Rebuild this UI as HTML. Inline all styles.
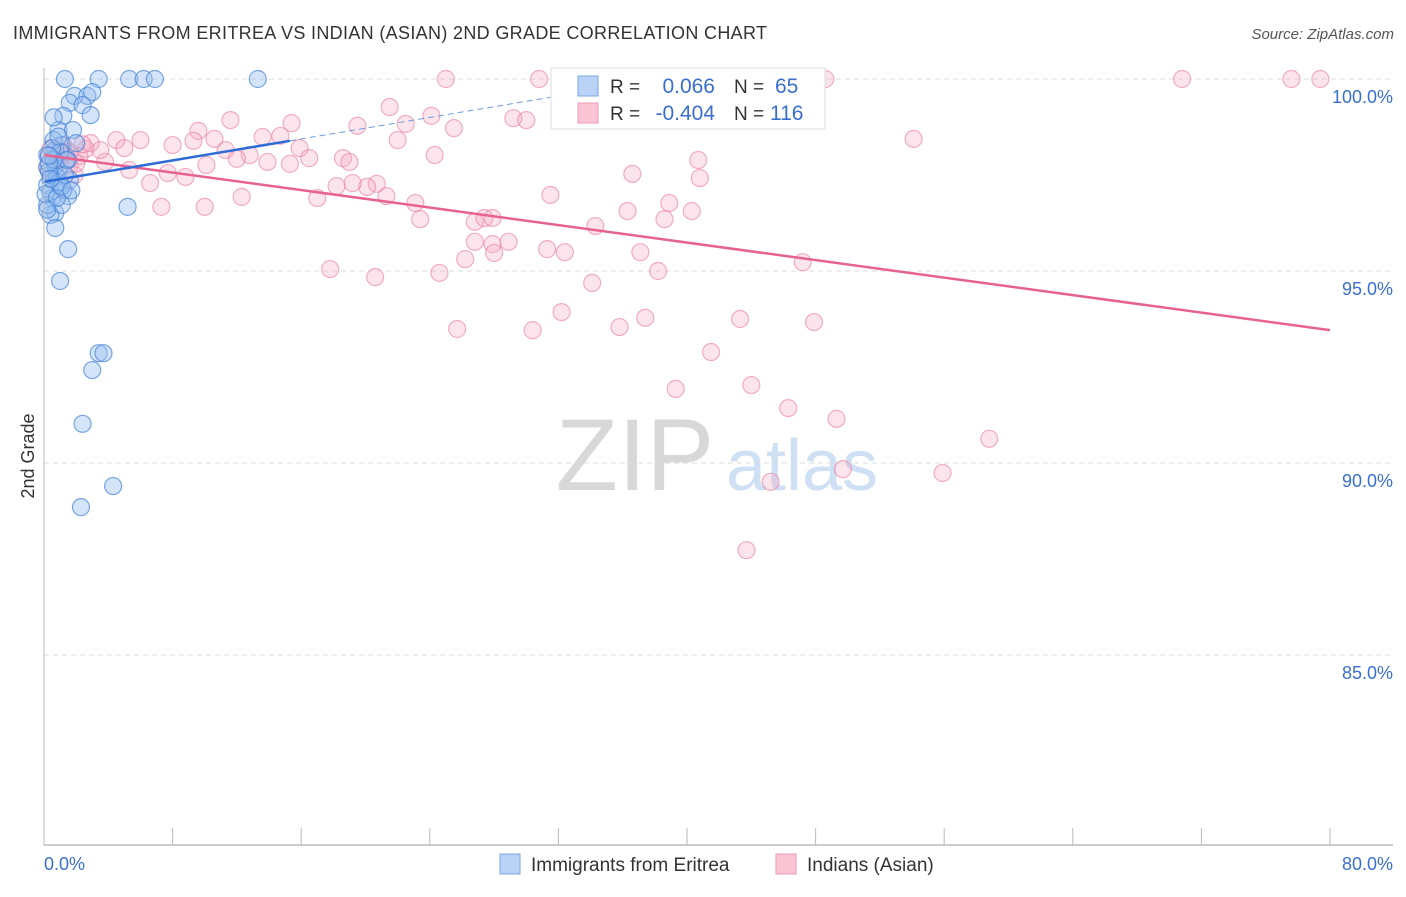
<!DOCTYPE html>
<html><head><meta charset="utf-8"><style>
body{margin:0;background:#fff;font-family:"Liberation Sans",sans-serif;}
svg text{font-family:"Liberation Sans",sans-serif;}
</style></head><body>
<svg id="chart" width="1406" height="892" xmlns="http://www.w3.org/2000/svg">
<text x="13" y="39" font-size="18" fill="#333" textLength="754" lengthAdjust="spacing">IMMIGRANTS FROM ERITREA VS INDIAN (ASIAN) 2ND GRADE CORRELATION CHART</text>
<text x="1394" y="39" font-size="15" fill="#555" text-anchor="end" font-style="italic">Source: ZipAtlas.com</text>
<text transform="translate(34,456) rotate(-90)" font-size="18" fill="#333" text-anchor="middle">2nd Grade</text>
<g>
<text x="635" y="490" font-size="102" fill="#d8d8d8" font-family="Liberation Serif" text-anchor="middle">ZIP</text>
<text x="802" y="490" font-size="72" fill="#cfe0f5" text-anchor="middle">atlas</text>
</g>
<g id="grid"></g>
<g id="marks"></g>
<g id="axes"></g>
<g>
<rect x="551" y="68" width="274" height="61" fill="#fff" stroke="#ddd"/>
<rect x="578" y="76" width="20" height="20" fill="#b8d3f5" stroke="#7aa7e0"/>
<rect x="578" y="103" width="20" height="20" fill="#f9c5d4" stroke="#ee9ab3"/>
<text x="610" y="93" font-size="19" fill="#333">R =</text>
<text x="715" y="93" font-size="21" fill="#3a6fcf" text-anchor="end">0.066</text>
<text x="734" y="93" font-size="19" fill="#333">N =</text>
<text x="775" y="93" font-size="21" fill="#3a6fcf">65</text>
<text x="610" y="120" font-size="19" fill="#333">R =</text>
<text x="715" y="120" font-size="21" fill="#3a6fcf" text-anchor="end">-0.404</text>
<text x="734" y="120" font-size="19" fill="#333">N =</text>
<text x="770" y="120" font-size="21" fill="#3a6fcf">116</text>
</g>
<g>
<rect x="500" y="854" width="20" height="20" fill="#b8d3f5" stroke="#7aa7e0"/>
<text x="531" y="871" font-size="19" fill="#333">Immigrants from Eritrea</text>
<rect x="776" y="854" width="20" height="20" fill="#f9c5d4" stroke="#ee9ab3"/>
<text x="807" y="871" font-size="19" fill="#333">Indians (Asian)</text>
</g>
</svg>
<script>
const xTicks=[0,8,16,24,32,40,48,56,64,72,80];
const yTicks=[100,95,90,85];
const yTickLabels=["100.0%","95.0%","90.0%","85.0%"];
const blueX=[1.3,3.4,5.3,6.2,6.9,13.3,1.9,2.7,3.0,1.6,2.4,1.2,2.9,0.9,1.8,1.1,2.0,0.7,0.5,1.5,0.9,0.4,1.0,0.2,1.5,0.5,0.7,0.4,0.7,1.5,1.0,5.2,3.4,3.7,3.0,2.4,4.3,2.3,0.6,1.0,0.2,0.8,1.2,0.4,0.2,1.1,1.6,0.7,0.2,1.4,0.3,0.9,0.1,0.6,1.3,0.5,0.8,0.3,1.1,0.2,0.6,0.9,0.4,1.7,0.3];
const blueY=[100,100,100,100,100,100,99.56,99.56,99.66,99.38,99.32,99.04,99.06,98.67,98.67,98.28,98.33,98.15,97.89,97.89,97.63,97.5,97.24,97.24,96.95,96.9,96.51,96.46,96.12,95.57,94.74,96.67,92.86,92.86,92.42,91.02,89.4,88.85,98.41,98.1,97.71,97.45,97.11,97.06,96.72,96.72,97.37,97.76,98.02,97.89,97.6,97.3,97.0,97.9,97.5,98.2,96.9,97.8,97.2,96.6,99.0,98.5,97.4,97.1,98.0];
const pinkX=[25.0,30.8,70.8,77.6,79.4,48.6,21.5,24.1,11.6,15.4,19.5,22.5,25.5,29.2,30.0,9.6,13.6,14.7,8.0,9.3,10.6,6.0,4.5,22.0,24.3,54.1,15.9,12.8,11.3,2.6,3.8,5.3,6.6,7.7,8.8,10.1,12.0,13.9,15.3,16.5,18.6,19.0,20.7,20.1,19.2,21.3,17.0,18.2,23.1,23.4,26.8,27.4,27.9,31.5,36.6,40.7,40.8,38.9,40.3,36.3,38.6,34.3,26.8,27.9,28.9,28.0,26.2,31.3,32.4,37.1,38.2,47.2,17.8,20.6,24.6,34.1,25.7,30.4,32.2,35.8,37.4,43.3,47.9,41.5,39.3,44.0,46.3,49.3,58.8,49.7,55.9,45.2,43.7,7.3,10.0,12.3,2.2,1.0,1.6,0.7,1.9,2.9,5.0,1.2,0.4,3.5,0.3,0.9,1.4,2.0,0.5,1.1,0.2,2.4,0.8,1.6];
const pinkY=[100,100,100,100,100,100,99.27,99.04,98.93,98.85,98.78,98.83,98.72,98.98,98.93,98.65,98.49,98.52,98.28,98.39,98.44,98.41,98.41,98.41,98.02,98.44,98.2,98.02,98.15,98.18,97.84,97.63,97.29,97.55,97.45,97.76,97.92,97.84,97.79,97.94,97.94,97.84,97.27,97.19,97.29,96.95,96.9,97.21,96.77,96.35,96.28,96.38,96.38,96.98,97.53,97.89,97.42,96.77,96.56,96.56,96.35,96.17,95.76,95.7,95.76,95.47,95.31,95.57,95.49,95.49,95.0,95.23,95.05,94.84,94.95,94.69,93.49,93.46,93.93,93.54,93.78,93.75,93.67,92.89,91.93,92.03,91.43,91.15,90.63,89.84,89.74,89.51,87.73,96.67,96.67,96.93,97.99,98.1,97.76,97.89,97.5,98.33,98.2,98.28,98.18,98.15,98.0,97.9,98.1,97.8,98.2,98.05,97.7,98.3,97.95,98.1];
const blueTrendX=[0,15.3,38.3];
const blueTrendY=[97.32,98.39,100];
const pinkTrendX=[0,80];
const pinkTrendY=[98.02,93.46];

const NS="http://www.w3.org/2000/svg";
const X=v=>44+v*(1286/80);
const Y=v=>79+(100-v)*38.4;
function mk(tag,attrs,parent){const e=document.createElementNS(NS,tag);for(const k in attrs)e.setAttribute(k,attrs[k]);parent.appendChild(e);return e;}
const grid=document.getElementById('grid'),marks=document.getElementById('marks'),axes=document.getElementById('axes');
yTicks.forEach((t,i)=>{
  const l=mk('line',{x1:44,x2:1393,y1:Y(t),y2:Y(t),stroke:'#ddd','stroke-dasharray':'5,4'},grid);
  
  
  const tx=mk('text',{x:1393,y:Y(t)+24,'font-size':18,fill:'#3a6fcf','text-anchor':'end'},axes);
  tx.textContent=yTickLabels[i];
  
  
});
const yl=mk('line',{x1:44,x2:44,y1:68,y2:845,stroke:'#bbb'},axes);


const xl=mk('line',{x1:44,x2:1393,y1:845,y2:845,stroke:'#bbb','stroke-width':1.5},axes);


xTicks.forEach(t=>{if(t===0)return;
  const l=mk('line',{x1:X(t),x2:X(t),y1:828,y2:845,stroke:'#bbb'},axes);
  
  
});
const x0=mk('text',{x:44,y:870,'font-size':18,fill:'#3a6fcf'},axes);x0.textContent=xTicks[0].toFixed(1)+'%';


const x1=mk('text',{x:1393,y:870,'font-size':18,fill:'#3a6fcf','text-anchor':'end'},axes);x1.textContent=xTicks[xTicks.length-1].toFixed(1)+'%';


pinkX.forEach((v,i)=>{
  const c=mk('circle',{cx:X(v),cy:Y(pinkY[i]),r:8.5,fill:'rgba(246,170,195,0.32)',stroke:'rgba(232,125,160,0.6)','stroke-width':1.2},marks);
  
  
});
blueX.forEach((v,i)=>{
  const c=mk('circle',{cx:X(v),cy:Y(blueY[i]),r:8.5,fill:'rgba(150,190,240,0.4)',stroke:'rgba(70,130,215,0.7)','stroke-width':1.2},marks);
  
  
});
const pt=mk('line',{x1:X(pinkTrendX[0]),y1:Y(pinkTrendY[0]),x2:X(pinkTrendX[1]),y2:Y(pinkTrendY[1]),stroke:'#e8628f','stroke-width':2.5},marks);


const bt=mk('line',{x1:X(blueTrendX[0]),y1:Y(blueTrendY[0]),x2:X(blueTrendX[1]),y2:Y(blueTrendY[1]),stroke:'#2e6cd6','stroke-width':2.5},marks);


const bd=mk('line',{x1:X(blueTrendX[1]),y1:Y(blueTrendY[1]),x2:X(blueTrendX[2]),y2:Y(blueTrendY[2]),stroke:'#6b9be0','stroke-width':1,'stroke-dasharray':'6,4'},marks);


</script>
</body></html>
